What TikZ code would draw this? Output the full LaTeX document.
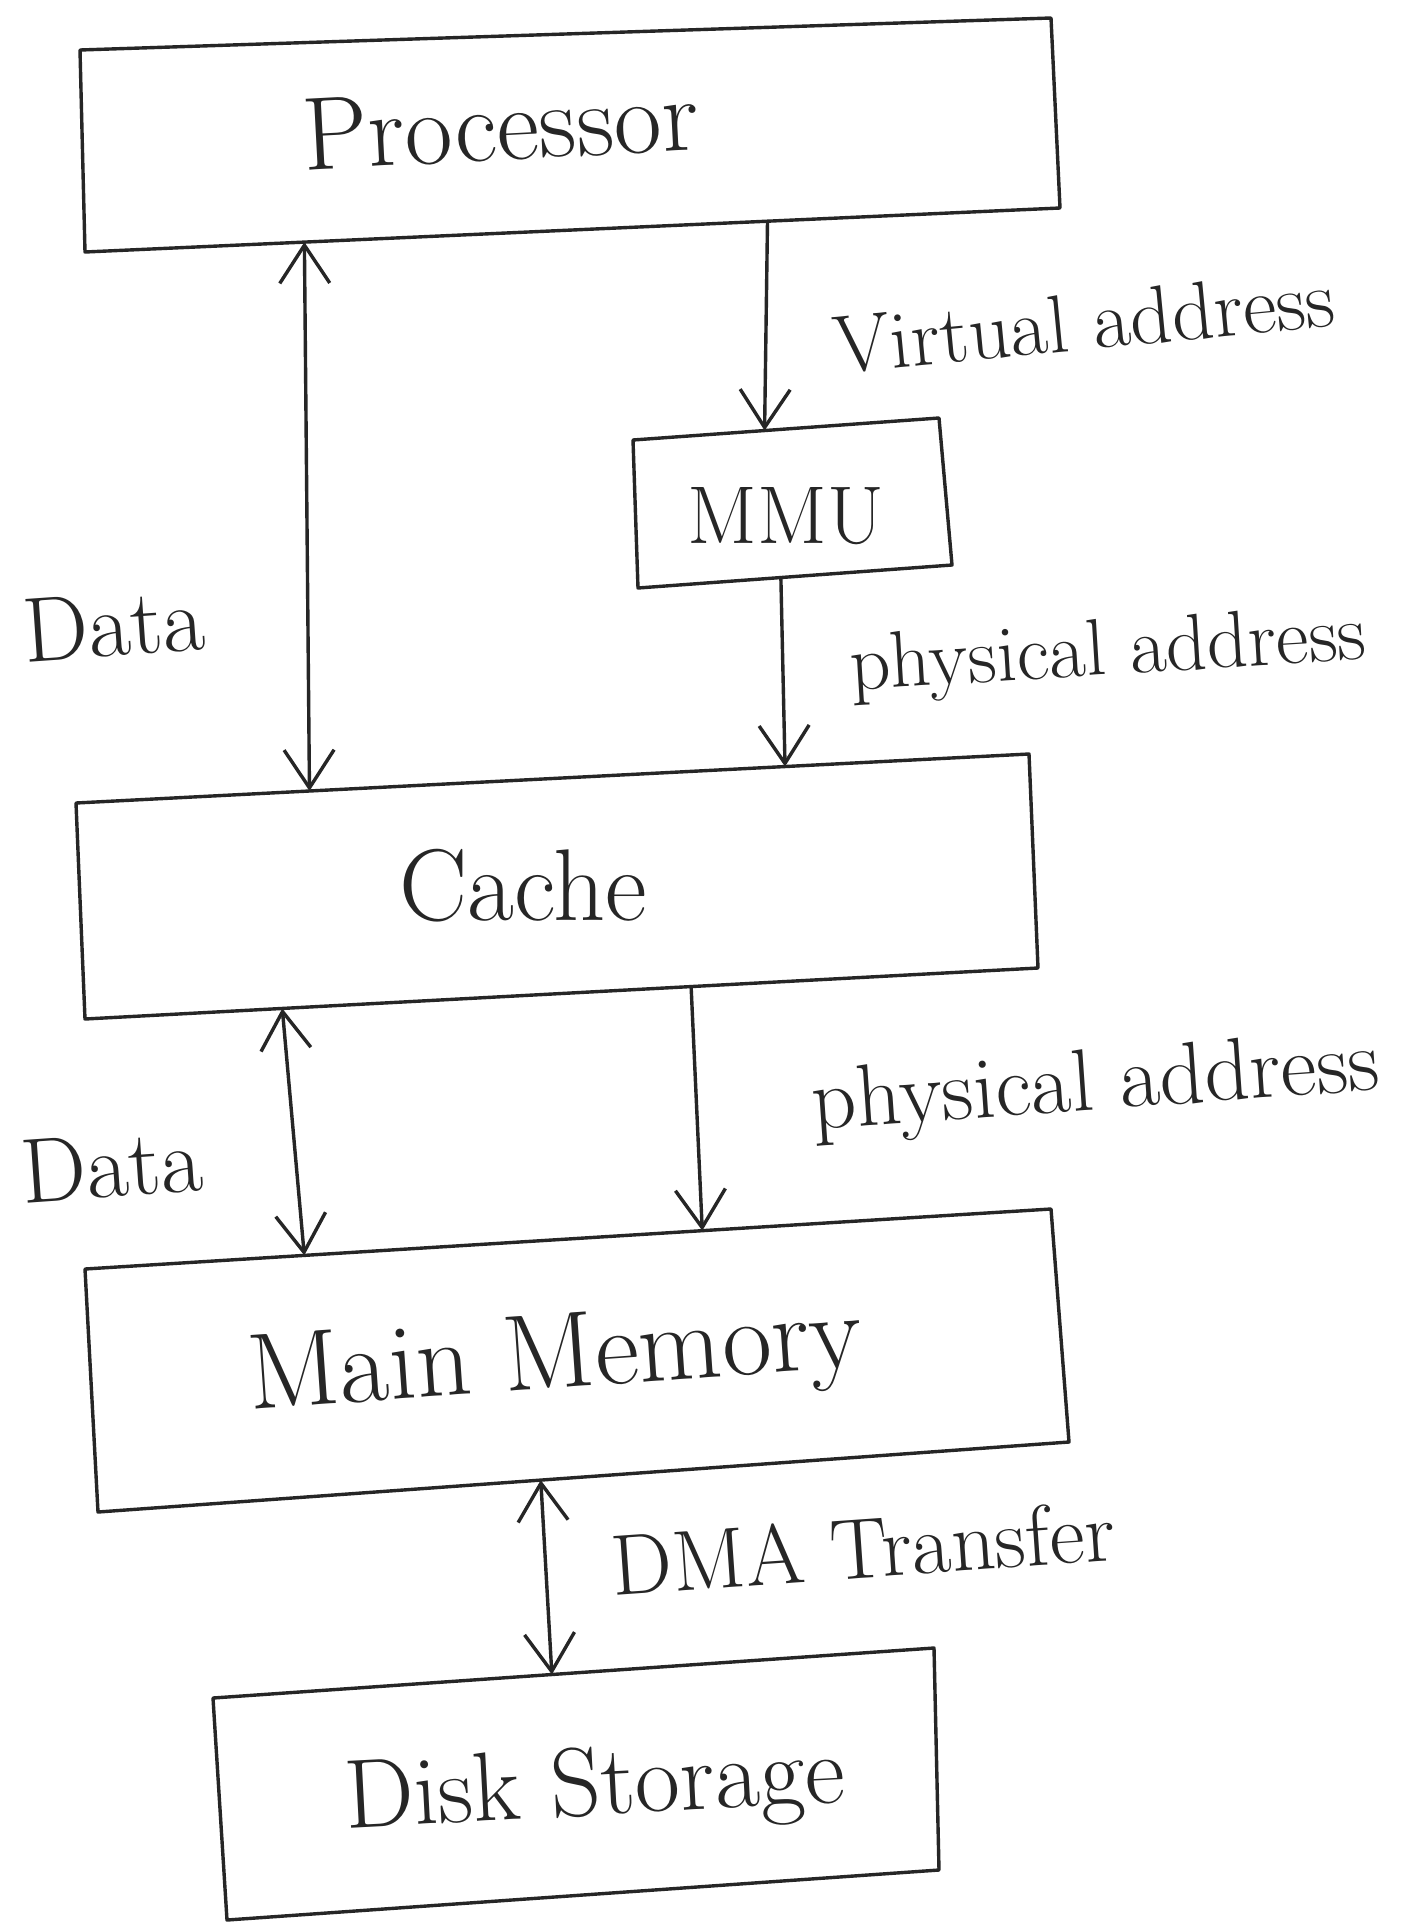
\documentclass[tikz,border=0pt]{standalone}
\usepackage{fontspec}
\usetikzlibrary{arrows.meta,calc}
\definecolor{ink}{HTML}{262626}
\begin{document}
\begin{tikzpicture}[x=0.5pt,y=-0.5pt,
  pen/.style={draw=ink,line width=1.7pt,line join=round,line cap=round},
  barb/.tip={Straight Barb[length=19pt,width=25pt]},
  oneway/.style={pen,-barb},
  twoway/.style={pen,barb-barb},
  txt/.style={text=ink,inner sep=0pt,font=\fontsize{#1}{#1}\selectfont},
  txt/.default=40]
\fill[white] (0,0) rectangle (1402,1922);
\useasboundingbox (0,0) rectangle (1402,1922);
% box corners
\coordinate (pTL) at (80,50);   \coordinate (pTR) at (1051,18);
\coordinate (pBR) at (1060,208);\coordinate (pBL) at (85,252);
\coordinate (mTL) at (633,440); \coordinate (mTR) at (939,418);
\coordinate (mBR) at (952,565); \coordinate (mBL) at (638,588);
\coordinate (cTL) at (76,803);  \coordinate (cTR) at (1029,754);
\coordinate (cBR) at (1038,968);\coordinate (cBL) at (85,1019);
\coordinate (rTL) at (85,1269); \coordinate (rTR) at (1051,1209);
\coordinate (rBR) at (1069,1442);\coordinate (rBL) at (98,1512);
\coordinate (dTL) at (213,1698);\coordinate (dTR) at (934,1648);
\coordinate (dBR) at (939,1870);\coordinate (dBL) at (227,1920);
% boxes
\draw[pen] (pTL) -- (pTR) -- (pBR) -- (pBL) -- cycle;
\draw[pen] (mTL) -- (mTR) -- (mBR) -- (mBL) -- cycle;
\draw[pen] (cTL) -- (cTR) -- (cBR) -- (cBL) -- cycle;
\draw[pen] (rTL) -- (rTR) -- (rBR) -- (rBL) -- cycle;
\draw[pen] (dTL) -- (dTR) -- (dBR) -- (dBL) -- cycle;
% box labels
\node[txt=52,anchor=base,rotate=3] (proc) at (502,160) {Processor};
\node[txt=41,anchor=base] (mmu) at (786,543) {MMU};
\node[txt=51,anchor=base] (cache) at (523,920) {Cache};
\node[txt=54,anchor=base,rotate=4] (mem) at (557,1388) {Main Memory};
\node[txt=49,anchor=base,rotate=3] (disk) at (596,1815) {Disk Storage};
% connector end points on box edges
\coordinate (pD) at ($(pBL)!0.225!(pBR)$);
\coordinate (cD) at ($(cTL)!0.245!(cTR)$);
\coordinate (pV) at ($(pBL)!0.70!(pBR)$);
\coordinate (mV) at ($(mTL)!0.43!(mTR)$);
\coordinate (mP) at ($(mBL)!0.455!(mBR)$);
\coordinate (cP) at ($(cTL)!0.744!(cTR)$);
\coordinate (cD2) at ($(cBL)!0.207!(cBR)$);
\coordinate (rD) at ($(rTL)!0.227!(rTR)$);
\coordinate (cQ) at ($(cBL)!0.636!(cBR)$);
\coordinate (rQ) at ($(rTL)!0.639!(rTR)$);
\coordinate (rM) at ($(rBL)!0.456!(rBR)$);
\coordinate (dM) at ($(dTL)!0.47!(dTR)$);
% connectors
\draw[twoway] (pD) -- (cD);
\draw[oneway] (pV) -- (mV);
\draw[oneway] (mP) -- (cP);
\draw[twoway] (cD2) -- (rD);
\draw[oneway] (cQ) -- (rQ);
\draw[twoway] (rM) -- (dM);
% connector labels
\node[txt=41,rotate=5.5] (lv) at (1084,322) {Virtual address};
\node[txt=40,rotate=3.5] (lp1) at (1108,655) {physical address};
\node[txt=44,rotate=4] (lp2) at (1096,1088) {physical address};
\node[txt=46,rotate=4] (ld1) at (114,625) {Data};
\node[txt=46,rotate=4] (ld2) at (112,1166) {Data};
\node[txt=43,rotate=4] (ldma) at (863,1548) {DMA Transfer};
\end{tikzpicture}
\end{document}
